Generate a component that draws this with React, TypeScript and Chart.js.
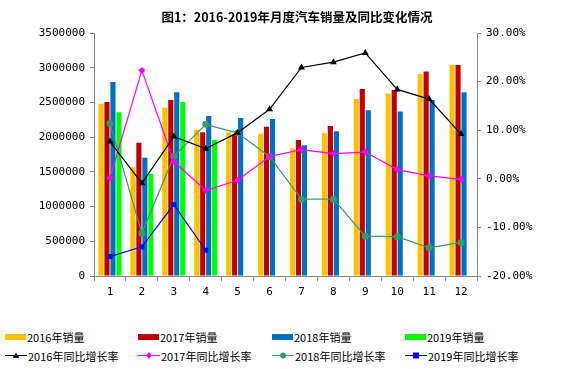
import React, { useEffect, useRef } from "react";
import { Chart, registerables } from "chart.js";

Chart.register(...registerables);

const months = ["1", "2", "3", "4", "5", "6", "7", "8", "9", "10", "11", "12"];

const sales2016 = [2480000, 1566000, 2425000, 2108000, 2070000, 2050000, 1840000, 2056000, 2550000, 2627000, 2911000, 3040000];
const sales2017 = [2507000, 1921000, 2536000, 2070000, 2036000, 2151000, 1960000, 2161000, 2694000, 2680000, 2944000, 3040000];
const sales2018 = [2795000, 1705000, 2647000, 2305000, 2277000, 2262000, 1883000, 2085000, 2387000, 2368000, 2536000, 2647000];
const sales2019 = [2360000, 1470000, 2507000, 1960000, null, null, null, null, null, null, null, null];

const growth2016 = [7.65, -0.93, 8.68, 6.2, 9.5, 14.3, 22.9, 24.0, 25.9, 18.4, 16.4, 9.2];
const growth2017 = [0.16, 22.3, 3.6, -2.4, -0.3, 4.6, 6.0, 5.2, 5.5, 1.9, 0.6, -0.1];
const growth2018 = [11.4, -11.2, 4.6, 11.2, 9.4, 4.6, -4.2, -4.2, -11.8, -11.9, -14.2, -13.1];
const growth2019 = [-16.0, -14.0, -5.3, -14.7, null, null, null, null, null, null, null, null];

const titleText = "图1：2016-2019年月度汽车销量及同比变化情况";

const barSeries = [
  { label: "2016年销量", data: sales2016, color: "#FFC000" },
  { label: "2017年销量", data: sales2017, color: "#C00000" },
  { label: "2018年销量", data: sales2018, color: "#0070C0" },
  { label: "2019年销量", data: sales2019, color: "#00FF00" },
];

const lineSeries = [
  { label: "2016年同比增长率", data: growth2016, color: "#000000", point: "triangle", radius: 4 },
  { label: "2017年同比增长率", data: growth2017, color: "#FF00FF", point: "rectRot", radius: 3.5 },
  { label: "2018年同比增长率", data: growth2018, color: "#3A9A6A", point: "circle", radius: 3.5 },
  { label: "2019年同比增长率", data: growth2019, color: "#0000FF", point: "rect", radius: 3.5 },
];

const tickFont = { family: "'DejaVu Sans Mono', monospace", size: 11 };
const axisColor = "#868686";

function LegendMarker({ kind, color, point }: { kind: string; color: string; point?: string }) {
  if (kind === "bar") {
    return <span style={{ display: "inline-block", width: 21, height: 6, background: color, marginRight: 1 }} />;
  }
  let shape: React.ReactNode = null;
  if (point === "triangle") {
    shape = <polygon points="11,0.5 14.5,6 7.5,6" fill={color} />;
  } else if (point === "rectRot") {
    shape = <polygon points="11,0 14,3.5 11,7 8,3.5" fill={color} />;
  } else if (point === "circle") {
    shape = <circle cx="11" cy="3.5" r="3" fill={color} />;
  } else {
    shape = <rect x="8" y="0.5" width="6" height="6" fill={color} />;
  }
  return (
    <svg width="22" height="7" style={{ marginRight: 1, display: "inline-block" }}>
      <line x1="0" y1="3.5" x2="22" y2="3.5" stroke={color} strokeWidth="1" />
      {shape}
    </svg>
  );
}

export default function App() {
  const canvasRef = useRef<HTMLCanvasElement | null>(null);

  useEffect(() => {
    document.body.style.margin = "0";
    const ctx = canvasRef.current!.getContext("2d")!;
    const datasets: any[] = [];
    lineSeries.forEach((s) => {
      datasets.push({
        type: "line",
        label: s.label,
        data: s.data,
        yAxisID: "y1",
        borderColor: s.color,
        backgroundColor: s.color,
        borderWidth: 1.2,
        pointStyle: s.point,
        pointRadius: s.radius,
        pointBorderWidth: 0,
        pointBackgroundColor: s.color,
        spanGaps: false,
        tension: 0,
        order: 1,
      });
    });
    barSeries.forEach((s) => {
      datasets.push({
        type: "bar",
        label: s.label,
        data: s.data,
        yAxisID: "y",
        backgroundColor: s.color,
        borderWidth: 0,
        categoryPercentage: 0.75,
        barPercentage: 0.86,
        order: 2,
      });
    });

    const chart = new Chart(ctx, {
      type: "bar",
      data: { labels: months, datasets },
      options: {
        animation: false,
        responsive: false,
        maintainAspectRatio: false,
        layout: { padding: { top: 33, left: 0, right: 0, bottom: 0 } },
        plugins: {
          legend: { display: false },
          title: { display: false },
          tooltip: { enabled: false },
        },
        scales: {
          x: {
            grid: { display: true, drawOnChartArea: false, drawTicks: true, tickLength: 5, color: axisColor, offset: true },
            border: { display: true, color: axisColor },
            ticks: { color: "#000", font: tickFont, padding: 5 },
            afterFit: (scale: any) => {
              scale.height = 24;
            },
          },
          y: {
            position: "left",
            min: 0,
            max: 3500000,
            grid: { display: true, drawOnChartArea: false, drawTicks: true, tickLength: 4, color: axisColor },
            border: { display: true, color: axisColor },
            ticks: { stepSize: 500000, color: "#000", font: tickFont, padding: 5, callback: (v: any) => String(v) },
            afterFit: (scale: any) => {
              scale.width = 94;
            },
          },
          y1: {
            position: "right",
            min: -20,
            max: 30,
            grid: { display: true, drawOnChartArea: false, drawTicks: true, tickLength: 4, color: axisColor },
            border: { display: true, color: axisColor },
            ticks: { stepSize: 10, color: "#000", font: tickFont, padding: 5, callback: (v: any) => Number(v).toFixed(2) + "%" },
            afterFit: (scale: any) => {
              scale.width = 90;
            },
          },
        },
      } as any,
    });
    return () => chart.destroy();
  }, []);

  const legendItems = [
    ...barSeries.map((s) => ({ kind: "bar", label: s.label, color: s.color, point: undefined as string | undefined })),
    ...lineSeries.map((s) => ({ kind: "line", label: s.label, color: s.color, point: s.point })),
  ];
  const colX = [5, 138, 272, 405];
  const rowY = [330, 349];

  return (
    <div style={{ position: "relative", width: 567, height: 369, background: "#fff", overflow: "hidden" }}>
      <canvas ref={canvasRef} width={567} height={300} style={{ position: "absolute", left: 0, top: 0, width: 567, height: 300 }} />
      <div
        style={{
          position: "absolute",
          left: 297,
          top: 8,
          transform: "translateX(-50%)",
          whiteSpace: "nowrap",
          fontFamily: "'Noto Sans CJK SC', sans-serif",
          fontWeight: 700,
          fontSize: 12.5,
          lineHeight: "18px",
          color: "#000",
        }}
      >
        {titleText}
      </div>
      {legendItems.map((it, i) => (
        <div
          key={it.label}
          style={{
            position: "absolute",
            left: colX[i % 4],
            top: rowY[Math.floor(i / 4)],
            height: 13,
            display: "flex",
            alignItems: "center",
            whiteSpace: "nowrap",
            fontFamily: "'Noto Sans CJK SC', sans-serif",
            fontSize: 11,
            color: "#000",
          }}
        >
          <LegendMarker kind={it.kind} color={it.color} point={it.point} />
          <span>{it.label}</span>
        </div>
      ))}
    </div>
  );
}
